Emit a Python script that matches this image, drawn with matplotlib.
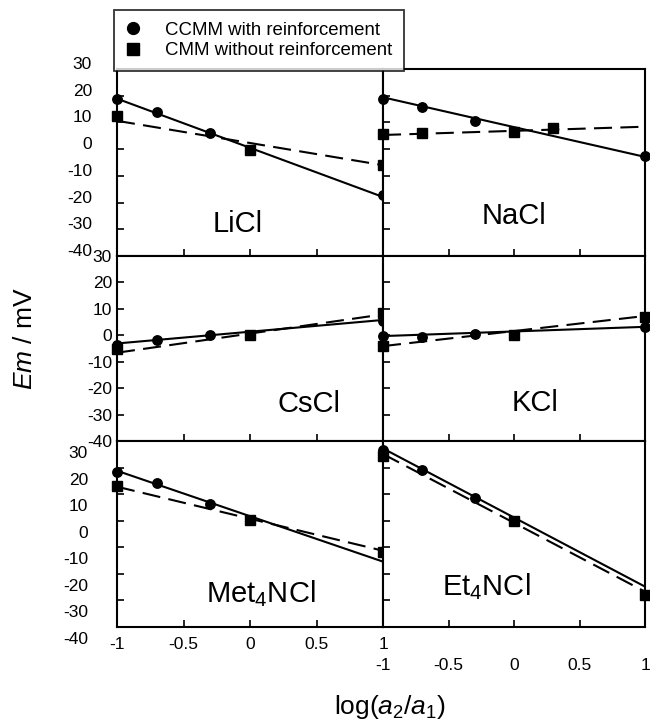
import matplotlib
matplotlib.use("Agg")
import matplotlib.pyplot as plt
from matplotlib.lines import Line2D
from matplotlib.transforms import ScaledTranslation

plt.rcParams["font.family"] = ["Liberation Sans", "DejaVu Sans"]
plt.rcParams["mathtext.fontset"] = "custom"
plt.rcParams["mathtext.rm"] = "Liberation Sans"
plt.rcParams["mathtext.it"] = "Liberation Sans:italic"
plt.rcParams["lines.scale_dashes"] = False

# ---- data: membrane potential Em (mV) vs log(a2/a1) ----
salts = ["LiCl", "NaCl", "CsCl", "KCl", "Met$_4$NCl", "Et$_4$NCl"]

ccmm_x = {
    "LiCl": [-1, -0.7, -0.3, 1],
    "NaCl": [-1, -0.7, -0.3, 1],
    "CsCl": [-1, -0.7, -0.3, 1],
    "KCl": [-1, -0.7, -0.3, 1],
    "Met$_4$NCl": [-1, -0.7, -0.3],
    "Et$_4$NCl": [-1, -0.7, -0.3],
}
ccmm_y = {
    "LiCl": [18.6, 13.8, 6.1, -17.3],
    "NaCl": [18.6, 15.9, 10.6, -2.6],
    "CsCl": [-3.5, -1.8, 0.2, 5.4],
    "KCl": [-0.3, -0.6, 0.6, 3.2],
    "Met$_4$NCl": [18.2, 14.3, 6.3],
    "Et$_4$NCl": [26.8, 19.1, 8.7],
}
cmm_x = {
    "LiCl": [-1, 0, 1],
    "NaCl": [-1, -0.7, 0, 0.3],
    "CsCl": [-1, 0, 1],
    "KCl": [-1, 0, 1],
    "Met$_4$NCl": [-1, 0, 1],
    "Et$_4$NCl": [-1, 0, 1],
}
cmm_y = {
    "LiCl": [12.5, -0.4, -6.0],
    "NaCl": [5.5, 6.1, 6.3, 8.0],
    "CsCl": [-5.3, 0.1, 8.3],
    "KCl": [-4.1, 0.0, 6.9],
    "Met$_4$NCl": [13.0, 0.3, -11.7],
    "Et$_4$NCl": [24.3, 0.0, -28.0],
}
# fitted straight lines, values at log(a2/a1) = -1 and +1
fit_x = [-1, 1]
ccmm_fit = {
    "LiCl": [18.9, -17.9],
    "NaCl": [19.4, -2.9],
    "CsCl": [-3.1, 5.8],
    "KCl": [-0.3, 3.2],
    "Met$_4$NCl": [18.8, -15.4],
    "Et$_4$NCl": [27.2, -24.8],
}
cmm_fit = {
    "LiCl": [10.6, -6.0],
    "NaCl": [5.3, 8.4],
    "CsCl": [-6.6, 7.9],
    "KCl": [-4.1, 7.3],
    "Met$_4$NCl": [12.8, -11.3],
    "Et$_4$NCl": [25.1, -26.7],
}
# label anchor (x, baseline y) in data units
label_pos = {
    "LiCl": (-0.09, -31.0),
    "NaCl": (0.0, -28.0),
    "CsCl": (0.44, -29.2),
    "KCl": (0.16, -28.5),
    "Met$_4$NCl": (0.08, -30.7),
    "Et$_4$NCl": (-0.21, -28.0),
}

x_ticks = [-1, -0.5, 0, 0.5, 1]
x_ticklabels = ["-1", "-0.5", "0", "0.5", "1"]
y_ticks = [-40, -30, -20, -10, 0, 10, 20, 30]
y_ticklabels = ["-40", "-30", "-20", "-10", "0", "10", "20", "30"]

# ---- layout ----
W, H = 650, 723
fig = plt.figure(figsize=(W / 100, H / 100), dpi=100)

cols = [(117, 383), (383, 645)]
rows = [(69, 256), (256, 441), (441, 627)]
# per-row y tick label pad (px) and vertical shift (px, + is down)
ylab_pad = [25, 5, 29]
ylab_shift = [-6, 0, 11]
xlab_pad = [10, 31]

for i, salt in enumerate(salts):
    r, c = divmod(i, 2)
    x0, x1 = cols[c]
    y0, y1 = rows[r]
    ax = fig.add_axes([x0 / W, 1 - y1 / H, (x1 - x0) / W, (y1 - y0) / H])
    ax.set_xlim(-1, 1)
    ax.set_ylim(-40, 30)
    for sp in ax.spines.values():
        sp.set_linewidth(1.5)

    ax.plot(fit_x, ccmm_fit[salt], color="black", lw=1.5, solid_capstyle="butt")
    ax.plot(fit_x, cmm_fit[salt], color="black", lw=1.5,
            linestyle=(0, (13, 6)))
    ax.plot(ccmm_x[salt], ccmm_y[salt], "o", color="black", ms=6.8,
            clip_on=False, zorder=3)
    ax.plot(cmm_x[salt], cmm_y[salt], "s", color="black", ms=6.5,
            clip_on=False, zorder=3)

    lx, ly = label_pos[salt]
    ax.text(lx, ly, salt, ha="center", va="baseline", fontsize=21)

    ax.set_xticks(x_ticks)
    ax.set_yticks(y_ticks)
    ax.tick_params(direction="in", length=5, width=1.2, labelsize=12.5)
    ax.tick_params(axis="y", pad=ylab_pad[r] / 1.389)

    if r == 2:
        ax.set_xticklabels(x_ticklabels)
        ax.tick_params(axis="x", pad=xlab_pad[c] / 1.389)
    else:
        ax.set_xticklabels([])
    if c == 0:
        ax.set_yticklabels(y_ticklabels)
        shift = ScaledTranslation(0, -ylab_shift[r] / 100, fig.dpi_scale_trans)
        for t in ax.yaxis.get_major_ticks():
            t.label1.set_transform(t.label1.get_transform() + shift)
    else:
        ax.set_yticklabels([])

# ---- legend ----
handles = [
    Line2D([], [], marker="o", ls="none", color="black", ms=8.5),
    Line2D([], [], marker="s", ls="none", color="black", ms=8),
]
leg = fig.legend(
    handles,
    ["CCMM with reinforcement", "CMM without reinforcement"],
    loc="upper left",
    bbox_to_anchor=(114 / W, 1 - 10 / H),
    borderaxespad=0,
    fontsize=13.4,
    frameon=True,
    fancybox=False,
    borderpad=0.63,
    handlelength=0.77,
    handletextpad=1.34,
    labelspacing=0.19,
)
leg.get_frame().set_edgecolor("black")
leg.get_frame().set_linewidth(1.3)
leg.set_zorder(10)

# ---- axis titles ----
fig.text(25 / W, 1 - 338 / H, "$Em$ / mV", rotation=90, ha="center",
         va="center", fontsize=19)
fig.text(390 / W, 1 - 707 / H, r"log($a_\mathrm{2}$/$a_\mathrm{1}$)",
         ha="center", va="center", fontsize=19)

fig.savefig("out.png", dpi=100, facecolor="white")
